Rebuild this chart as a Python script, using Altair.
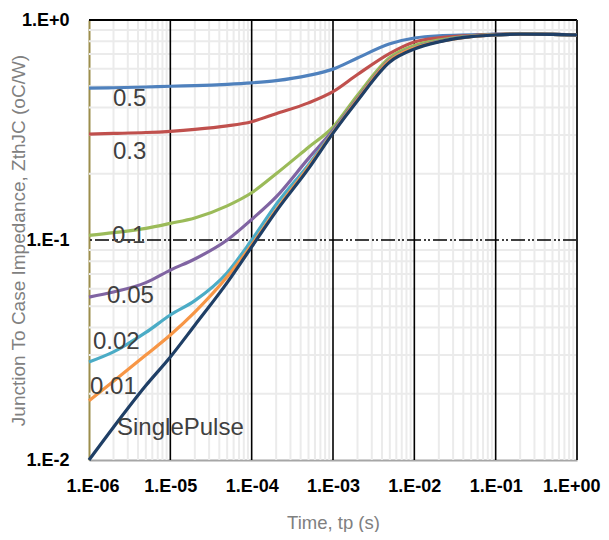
import altair as alt
import pandas as pd

# ---- data ----
t = [1e-6, 2e-6, 5e-6, 1e-5, 2e-5, 5e-5, 1e-4, 2e-4, 5e-4, 1e-3,
     2e-3, 5e-3, 1e-2, 2e-2, 5e-2, 1e-1, 2e-1, 5e-1, 1.0]

z_05 = [0.490, 0.492, 0.496, 0.500, 0.503, 0.510, 0.518, 0.530, 0.560, 0.598,
        0.672, 0.780, 0.828, 0.848, 0.856, 0.862, 0.866, 0.860, 0.855]
z_03 = [0.303, 0.305, 0.308, 0.312, 0.318, 0.330, 0.345, 0.375, 0.420, 0.472,
        0.565, 0.705, 0.794, 0.830, 0.850, 0.860, 0.866, 0.860, 0.855]
z_01 = [0.105, 0.108, 0.113, 0.119, 0.126, 0.143, 0.164, 0.200, 0.264, 0.326,
        0.455, 0.675, 0.765, 0.810, 0.845, 0.857, 0.864, 0.860, 0.855]
z_005 = [0.055, 0.058, 0.064, 0.073, 0.082, 0.100, 0.124, 0.157, 0.235, 0.315,
         0.440, 0.660, 0.750, 0.800, 0.842, 0.855, 0.862, 0.860, 0.855]
z_002 = [0.0279, 0.031, 0.038, 0.0456, 0.053, 0.071, 0.100, 0.145, 0.220, 0.310,
         0.435, 0.655, 0.750, 0.800, 0.842, 0.855, 0.862, 0.860, 0.855]
z_001 = [0.0186, 0.0228, 0.030, 0.037, 0.047, 0.068, 0.095, 0.137, 0.215, 0.308,
         0.435, 0.655, 0.748, 0.798, 0.841, 0.855, 0.862, 0.860, 0.855]
z_sp = [0.0100, 0.0141, 0.0218, 0.0294, 0.041, 0.064, 0.093, 0.135, 0.211, 0.306,
        0.430, 0.645, 0.738, 0.795, 0.840, 0.855, 0.862, 0.860, 0.855]

series_names = ["0.5", "0.3", "0.1", "0.05", "0.02", "0.01", "SinglePulse"]
series_values = [z_05, z_03, z_01, z_005, z_002, z_001, z_sp]
series_colors = ["#4F81BD", "#C0504D", "#9BBB59", "#8064A2", "#4BACC6", "#F79646", "#1F3F66"]

# label anchors (data coordinates) for the in-plot series labels
label_t = [1.97e-6, 1.97e-6, 1.92e-6, 1.67e-6, 1.12e-6, 1.03e-6, 2.21e-6]
label_z = [0.4375, 0.251, 0.104, 0.0556, 0.0344, 0.0215, 0.01397]

x_ticks = [1e-6, 1e-5, 1e-4, 1e-3, 1e-2, 1e-1, 1.0]
x_tick_labels = ["1.E-06", "1.E-05", "1.E-04", "1.E-03", "1.E-02", "1.E-01", "1.E+00"]
y_ticks = [0.01, 0.1, 1.0]
y_tick_labels = ["1.E-2", "1.E-1", "1.E+0"]

minor_x = [k * 10.0 ** e for e in range(-6, 0) for k in range(2, 10)]
minor_y = [k * 10.0 ** e for e in range(-2, 0) for k in range(2, 10)]
major_x = [1e-5, 1e-4, 1e-3, 1e-2, 1e-1]

W, H = 488, 440
FONT = "Liberation Sans"
BOLD_FONT = "Liberation Sans"

xscale = alt.Scale(type="log", domain=[1e-6, 1.0], nice=False)
yscale = alt.Scale(type="log", domain=[0.01, 1.0], nice=False)

x_label_expr = "[" + ",".join("'%s'" % s for s in x_tick_labels) + "][round(log(datum.value)/LN10)+6]"
y_label_expr = "[" + ",".join("'%s'" % s for s in y_tick_labels) + "][round(log(datum.value)/LN10)+2]"

x_axis = alt.Axis(values=x_ticks, labelExpr=x_label_expr, grid=False, ticks=False,
                  domainColor="#A6A6A6", domainWidth=2,
                  labelFont=BOLD_FONT, labelFontWeight="bold", labelFontSize=18,
                  labelColor="#000000", labelPadding=17,
                  labelFlush=True, labelFlushOffset=23,
                  title="Time, tp (s)", titleFont=FONT, titleFontSize=18.5,
                  titleFontWeight="normal", titleColor="#808080",
                  titleY=68, titleBaseline="alphabetic")
y_axis = alt.Axis(values=y_ticks, labelExpr=y_label_expr, grid=False, ticks=False,
                  domainColor="#9C8E4C", domainWidth=2,
                  labelFont=BOLD_FONT, labelFontWeight="bold", labelFontSize=18,
                  labelColor="#000000", labelPadding=20, labelFlush=False,
                  title="Junction To Case Impedance, ZthJC (oC/W)", titleFont=FONT,
                  titleFontSize=19, titleFontWeight="normal", titleColor="#808080",
                  titleX=-71, titleY=H / 2, titleBaseline="middle", titleAngle=-90)

minor_x_df = pd.DataFrame({"t": minor_x})
minor_y_df = pd.DataFrame({"z": minor_y})

grid_minor_x = alt.Chart(minor_x_df).mark_rule(color="#EBEBEB", strokeWidth=2).encode(
    x=alt.X("t:Q", scale=xscale, axis=x_axis))
grid_minor_y = alt.Chart(minor_y_df).mark_rule(color="#EBEBEB", strokeWidth=2).encode(
    y=alt.Y("z:Q", scale=yscale, axis=y_axis))
grid_major_x = alt.Chart(pd.DataFrame({"t": major_x})).mark_rule(color="#000000", strokeWidth=1.6).encode(
    x=alt.X("t:Q", scale=xscale))
grid_major_y = alt.Chart(pd.DataFrame({"z": [0.1]})).mark_rule(
    color="#000000", strokeWidth=1.6, strokeDash=[14, 3, 2, 2, 2, 3]).encode(
    y=alt.Y("z:Q", scale=yscale))
border_top = alt.Chart(pd.DataFrame({"z": [1.0]})).mark_rule(color="#000000", strokeWidth=2).encode(
    y=alt.Y("z:Q", scale=yscale))
border_right = alt.Chart(pd.DataFrame({"t": [1.0]})).mark_rule(color="#262626", strokeWidth=2).encode(
    x=alt.X("t:Q", scale=xscale))

layers = [grid_minor_x, grid_minor_y, grid_major_x, grid_major_y, border_top, border_right]

for name, vals, col in zip(series_names, series_values, series_colors):
    df = pd.DataFrame({"t": t, "z": vals, "series": name})
    layers.append(
        alt.Chart(df).mark_line(color=col, strokeWidth=3.2, interpolate="monotone").encode(
            x=alt.X("t:Q", scale=xscale),
            y=alt.Y("z:Q", scale=yscale),
        )
    )

labels_df = pd.DataFrame({"t": label_t, "z": label_z, "label": series_names})
labels = alt.Chart(labels_df).mark_text(
    align="left", baseline="middle", font=FONT, fontSize=24, color="#404040"
).encode(
    x=alt.X("t:Q", scale=xscale),
    y=alt.Y("z:Q", scale=yscale),
    text="label:N",
)
layers.append(labels)

chart = alt.layer(*layers).properties(
    width=W, height=H,
    autosize=alt.AutoSizeParams(type="none"),
    padding={"left": 81, "top": 12, "right": 24, "bottom": 72},
).configure_view(stroke=None)

chart.save("out.html", embed_options={"renderer": "svg", "actions": False})
